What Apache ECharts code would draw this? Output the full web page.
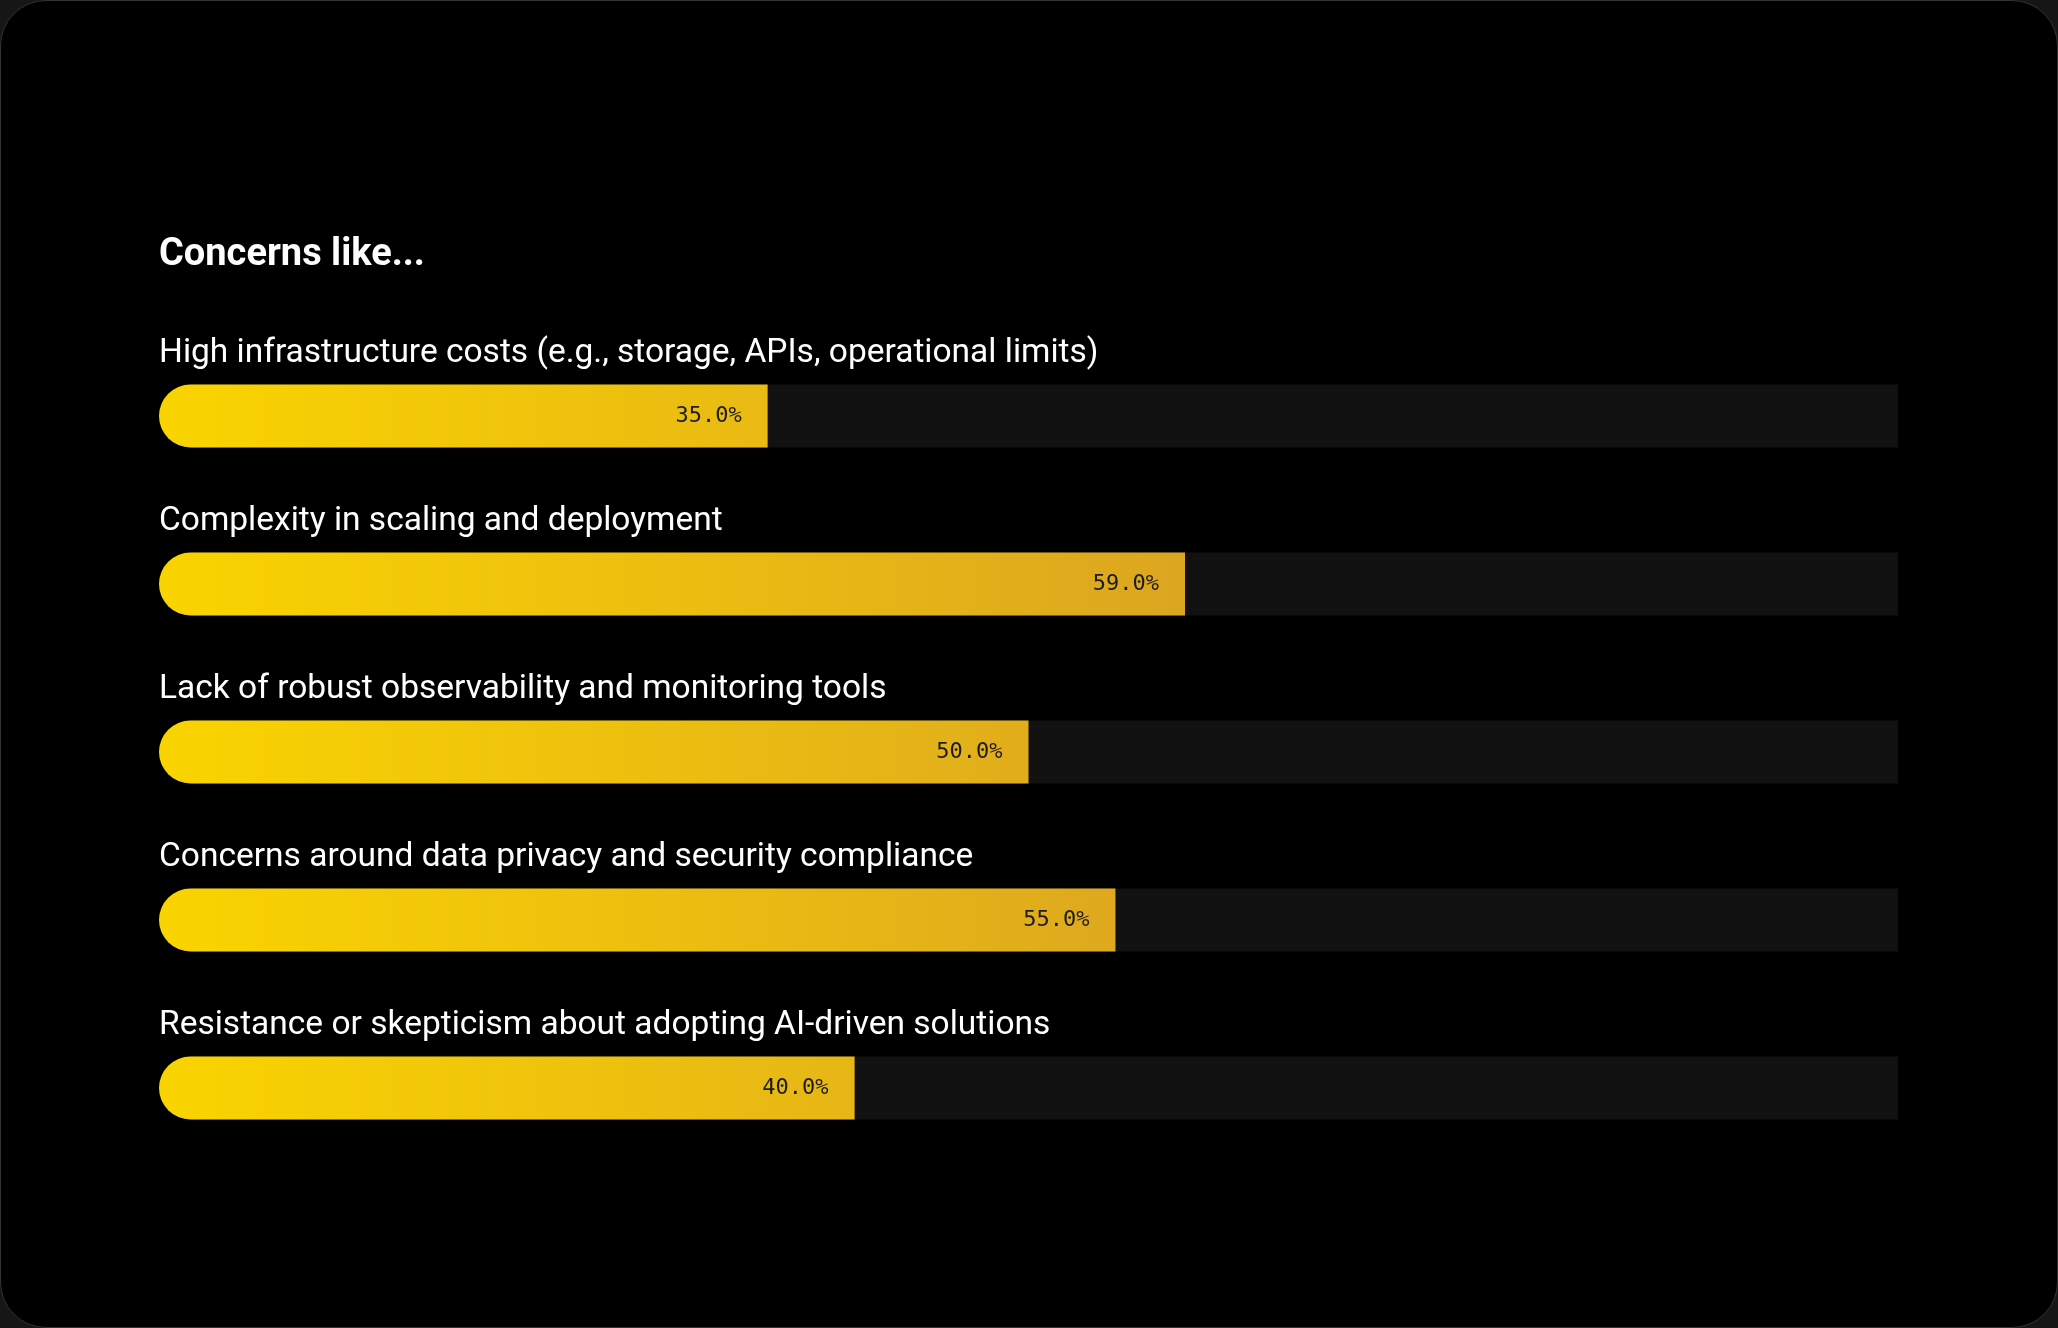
<!DOCTYPE html>
<html>
<head>
<meta charset="utf-8">
<script src="https://cdn.jsdelivr.net/npm/echarts@6/dist/echarts.min.js"></script>
<style>
  html, body { margin: 0; padding: 0; background: #161616; }
  #card { position: absolute; left: 0; top: 0; width: 2058px; height: 1328px; box-sizing: border-box;
          border-radius: 46px; border: 1px solid #333; background: #000; overflow: hidden; }
  #chart { position: absolute; left: 0; top: 0; width: 2058px; height: 1328px; }
</style>
</head>
<body>
<div id="card"></div>
<div id="chart"></div>
<script>
const titleText = 'Concerns like...';
const categories = [
  'High infrastructure costs (e.g., storage, APIs, operational limits)',
  'Complexity in scaling and deployment',
  'Lack of robust observability and monitoring tools',
  'Concerns around data privacy and security compliance',
  'Resistance or skepticism about adopting AI-driven solutions'
];
const values = [35.0, 59.0, 50.0, 55.0, 40.0];

const chart = echarts.init(document.getElementById('chart'), null, { renderer: 'canvas' });

const barGradient = new echarts.graphic.LinearGradient(159, 0, 1898, 0, [
  { offset: 0, color: '#FAD400' },
  { offset: 0.35, color: '#E9BA13' },
  { offset: 0.40, color: '#E6B616' },
  { offset: 0.55, color: '#DEA91E' },
  { offset: 0.59, color: '#DCA520' },
  { offset: 1, color: '#C89020' }
], true);

chart.setOption({
  backgroundColor: 'transparent',
  animation: false,
  title: {
    text: titleText,
    left: 159,
    top: 235,
    padding: 0,
    textStyle: { color: '#ffffff', fontFamily: 'Roboto', fontWeight: 'bold', fontSize: 38, lineHeight: 40 }
  },
  grid: { left: 159, right: 160, top: 332, bottom: 156, containLabel: false },
  xAxis: { type: 'value', min: 0, max: 100, show: false },
  yAxis: {
    type: 'category',
    data: categories,
    inverse: true,
    axisLine: { show: false },
    axisTick: { show: false },
    splitLine: { show: false },
    axisLabel: {
      show: true,
      interval: 0,
      hideOverlap: false,
      inside: true,
      margin: 0,
      align: 'left',
      verticalAlign: 'bottom',
      color: '#ffffff',
      fontFamily: 'Roboto',
      fontSize: 33.5,
      lineHeight: 40,
      padding: [0, 0, 42, 0]
    }
  },
  series: [{
    type: 'bar',
    data: values,
    barWidth: 63,
    showBackground: true,
    backgroundStyle: { color: '#111111', borderRadius: [31.5, 0, 0, 31.5] },
    itemStyle: { color: barGradient, borderRadius: [31.5, 0, 0, 31.5] },
    label: {
      show: true,
      position: 'insideRight',
      distance: 26,
      formatter: p => p.value.toFixed(1) + '%',
      color: '#1c1c1c',
      fontFamily: 'DejaVu Sans Mono',
      fontSize: 22
    }
  }]
});
</script>
</body>
</html>
